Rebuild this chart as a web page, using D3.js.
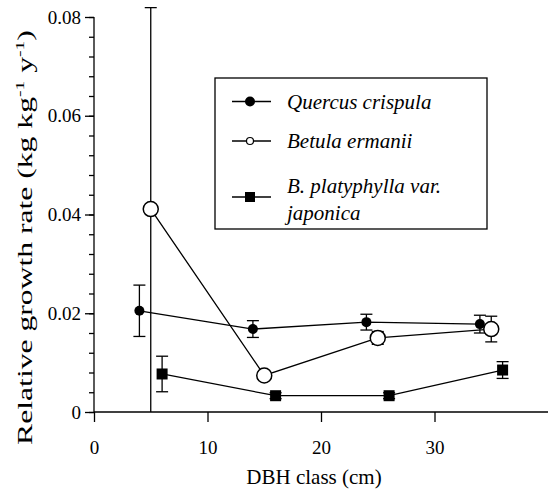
<!DOCTYPE html>
<html><head><meta charset="utf-8">
<script src="https://cdn.jsdelivr.net/npm/d3@7"></script>
<style>body{margin:0;background:#fff}svg{display:block}</style>
</head><body>
<svg id="c" width="548" height="490"></svg>
<script>
const seriesNames = ["Quercus crispula", "Betula ermanii", "B. platyphylla var. japonica"];
const quercusX = [4, 14, 24, 34];
const quercusY = [0.0205, 0.0168, 0.0182, 0.0178];
const quercusErr = [0.0052, 0.0017, 0.0016, 0.0018];
const betulaX = [5, 15, 25, 35];
const betulaY = [0.0411, 0.0074, 0.0150, 0.0168];
const betulaErr = [0.0408, 0.0008, 0.0013, 0.0026];
const platyX = [6, 16, 26, 36];
const platyY = [0.0077, 0.0033, 0.0033, 0.0085];
const platyErr = [0.0036, 0.0006, 0.0006, 0.0017];
const xTicks = [0, 10, 20, 30];
const yTicks = [0, 0.02, 0.04, 0.06, 0.08];
const yMinorTicks = d3.range(0, 0.0801, 0.004);

const FONT = '"Liberation Serif", "Times New Roman", Times, serif';
const svg = d3.select("#c");
const x = d3.scaleLinear().domain([0, 40]).range([94, 548]);
const y = d3.scaleLinear().domain([0, 0.08]).range([412, 17]);

// axes
const gy = svg.append("g").attr("transform", "translate(94,0)");
gy.call(d3.axisLeft(y).tickValues(yMinorTicks).tickSize(5).tickFormat(""));
gy.call(g => g.select(".domain").remove());
const gy2 = svg.append("g").attr("transform", "translate(94,0)")
  .call(d3.axisLeft(y).tickValues(yTicks).tickSize(9).tickPadding(4)
    .tickFormat(d => d === 0 ? "0" : d3.format(".2f")(d)));
gy2.select(".domain").remove();
svg.append("line").attr("x1", 94).attr("x2", 94).attr("y1", y(0.08)).attr("y2", 412).attr("stroke", "#000").attr("stroke-width", 1.3);

const gx = svg.append("g").attr("transform", "translate(0,412)")
  .call(d3.axisBottom(x).tickValues(xTicks).tickSize(10).tickPadding(19).tickFormat(d3.format("d")));
gx.select(".domain").remove();
svg.append("line").attr("x1", 94).attr("x2", 548).attr("y1", 412).attr("y2", 412).attr("stroke", "#000").attr("stroke-width", 1.3);
svg.selectAll(".tick line").attr("stroke-width", 1.3);
svg.selectAll(".tick text").style("font-family", FONT).attr("font-size", 19).attr("fill", "#000");

// titles
svg.append("text").attr("x", 314).attr("y", 484).attr("text-anchor", "middle")
  .style("font-family", FONT).attr("font-size", 21).text("DBH class (cm)");
const ytG = svg.append("g").attr("transform", "translate(32,237.5) rotate(-90)");
const yt = ytG.append("text").attr("text-anchor", "middle").style("font-family", FONT).attr("font-size", 21);
yt.append("tspan").text("Relative growth rate (kg kg");
yt.append("tspan").attr("dy", -8).attr("font-size", 13).text("-1");
yt.append("tspan").attr("dy", 8).text(" y");
yt.append("tspan").attr("dy", -8).attr("font-size", 13).text("-1");
yt.append("tspan").attr("dy", 8).text(")");
const bb = yt.node().getBBox();
const sx = 415 / bb.width;
yt.attr("transform", `scale(${sx},1) translate(${-(bb.x + bb.width / 2)},0)`);

// data series
const series = [
  {xs: quercusX, ys: quercusY, es: quercusErr, sym: "fcircle"},
  {xs: betulaX, ys: betulaY, es: betulaErr, sym: "ocircle"},
  {xs: platyX, ys: platyY, es: platyErr, sym: "square"}
];
const line = d3.line().x(d => x(d[0])).y(d => y(d[1]));
series.forEach(s => {
  const pts = s.xs.map((v, i) => [v, s.ys[i], s.es[i]]);
  const g = svg.append("g");
  pts.forEach(p => {
    const lo = Math.max(0, p[1] - p[2]), hi = p[1] + p[2];
    const loDraw = lo < 0.001 ? 0 : lo;
    g.append("line").attr("x1", x(p[0])).attr("x2", x(p[0])).attr("y1", y(loDraw)).attr("y2", y(hi)).attr("stroke", "#000").attr("stroke-width", 1.3);
    [hi, lo].forEach(v => {
      if (v > 0.001) g.append("line").attr("x1", x(p[0]) - 6).attr("x2", x(p[0]) + 6).attr("y1", y(v)).attr("y2", y(v)).attr("stroke", "#000").attr("stroke-width", 1.3);
    });
  });
  g.append("path").datum(pts).attr("d", line).attr("fill", "none").attr("stroke", "#000").attr("stroke-width", 1.3);
  pts.forEach(p => {
    if (s.sym === "fcircle") g.append("circle").attr("cx", x(p[0])).attr("cy", y(p[1])).attr("r", 5).attr("fill", "#000");
    else if (s.sym === "ocircle") g.append("circle").attr("cx", x(p[0])).attr("cy", y(p[1])).attr("r", 7.5).attr("fill", "#fff").attr("stroke", "#000").attr("stroke-width", 1.5);
    else g.append("rect").attr("x", x(p[0]) - 5.5).attr("y", y(p[1]) - 5.5).attr("width", 11).attr("height", 11).attr("fill", "#000");
  });
});

// legend
const lg = svg.append("g");
lg.append("rect").attr("x", 215).attr("y", 78).attr("width", 272).attr("height", 151).attr("fill", "#fff").attr("stroke", "#000").attr("stroke-width", 1.3);
const rows = [{yy: 101.5, sym: "fcircle", lines: [seriesNames[0]]},
              {yy: 141, sym: "ocircle", lines: [seriesNames[1]]},
              {yy: 197, sym: "square", lines: ["B. platyphylla var.", "japonica"]}];
rows.forEach(r => {
  lg.append("line").attr("x1", 232).attr("x2", 271).attr("y1", r.yy).attr("y2", r.yy).attr("stroke", "#000").attr("stroke-width", 1.3);
  if (r.sym === "fcircle") lg.append("circle").attr("cx", 250).attr("cy", r.yy).attr("r", 5).attr("fill", "#000");
  else if (r.sym === "ocircle") lg.append("circle").attr("cx", 250).attr("cy", r.yy).attr("r", 3.5).attr("fill", "#fff").attr("stroke", "#000").attr("stroke-width", 1.2);
  else lg.append("rect").attr("x", 245).attr("y", r.yy - 5).attr("width", 10).attr("height", 10).attr("fill", "#000");
  const addT = (t, yy) => lg.append("text").attr("x", 287).attr("y", yy).style("font-family", FONT)
    .attr("font-style", "italic").attr("font-size", 21).text(t);
  if (r.lines.length === 1) addT(r.lines[0], r.yy + 7);
  else { addT(r.lines[0], r.yy - 4); addT(r.lines[1], r.yy + 23); }
});
</script>
</body></html>
